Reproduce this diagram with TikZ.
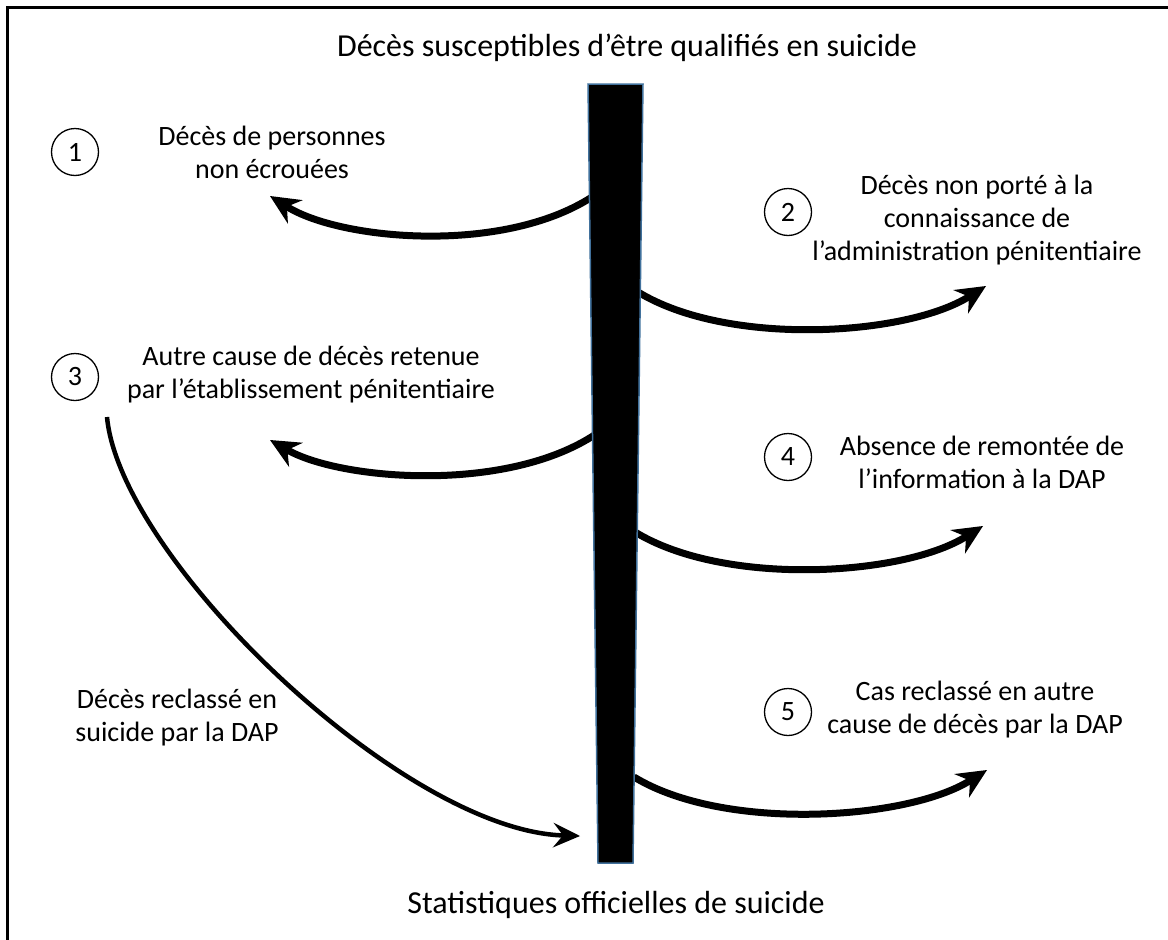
\documentclass[tikz,border=0pt]{standalone}
\usepackage{fontspec}
\setmainfont{Carlito}
\usetikzlibrary{arrows.meta}
\definecolor{barblue}{HTML}{41719C}
\tikzset{
  fleche/.style={line width=7pt, -{Stealth[length=30pt,width=28pt,inset=10pt,line width=0pt]}},
  longfleche/.style={line width=4.5pt, -{Stealth[length=27pt,width=25pt,inset=10pt,line width=0pt]}},
  num/.style={circle, draw, line width=1.3pt, minimum size=47pt, inner sep=0pt, font=\fontsize{28}{33}\selectfont},
  lbl/.style={align=center, inner sep=0pt, font=\fontsize{28}{33}\selectfont},
  titre/.style={inner sep=0pt, font=\fontsize{32}{38}\selectfont}
}

\begin{document}
\begin{tikzpicture}[x=1pt, y=-1pt]
        \useasboundingbox (0,0) rectangle (1168,940);
        % cadre (coupe a droite et en bas)
        \draw[line width=2.5pt] (7.5,940) -- (7.5,7.5) -- (1168,7.5);

        \node[titre] (haut) at (627,48) {Décès susceptibles d’être qualifiés en suicide};
        \node[titre] (bas) at (616,905) {Statistiques officielles de suicide};

        % points de depart sur la barre et extremites des fleches
        \coordinate (d1) at (592,197);
        \coordinate (f1) at (270,196);
        \coordinate (d2) at (638,292);
        \coordinate (f2) at (986,286);
        \coordinate (d3) at (596,434);
        \coordinate (f3) at (270,440);
        \coordinate (d4) at (635,532);
        \coordinate (f4) at (983,526);
        \coordinate (d5) at (634,777);
        \coordinate (f5) at (987,770);
        \coordinate (d6) at (107,417);
        \coordinate (f6) at (580,836);

        \draw[fleche] (d1) .. controls +(-90,58) and +(70,44) .. (f1);
        \draw[fleche] (d2) .. controls +(90,55) and +(-80,50) .. (f2);
        \draw[fleche] (d3) .. controls +(-90,60) and +(70,40) .. (f3);
        \draw[fleche] (d4) .. controls +(90,55) and +(-80,50) .. (f4);
        \draw[fleche] (d5) .. controls +(90,55) and +(-80,50) .. (f5);
        \draw[longfleche] (d6) .. controls +(13,141) and +(-178,-6) .. (f6);

        % la barre
        \draw[fill=black, draw=barblue, line width=1.5pt] (588,84) -- (643,84) -- (633,863) -- (598,863) -- cycle;

        \node[num] (n1) at (75,152) {1};
        \node[num] (n2) at (788,212) {2};
        \node[num] (n3) at (75,377) {3};
        \node[num] (n4) at (788,457) {4};
        \node[num] (n5) at (788,712) {5};

        \node[lbl] (t1) at (272,152) {Décès de personnes\\non écrouées};
        \node[lbl] (t2) at (977,220) {Décès non porté à la\\connaissance de\\l’administration pénitentiaire};
        \node[lbl] (t3) at (311,375) {Autre cause de décès retenue\\par l’établissement pénitentiaire};
        \node[lbl] (t4) at (982,462) {Absence de remontée de\\l’information à la DAP};
        \node[lbl] (t5) at (975,710) {Cas reclassé en autre\\cause de décès par la DAP};
        \node[lbl] (t6) at (177,718) {Décès reclassé en\\suicide par la DAP};
\end{tikzpicture}
\end{document}
